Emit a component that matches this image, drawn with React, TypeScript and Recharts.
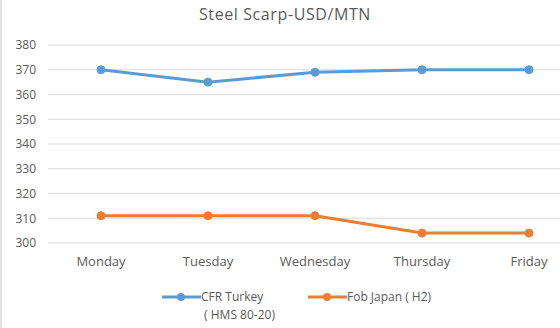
import React from "react";
import { LineChart, Line, XAxis, YAxis, CartesianGrid, Legend } from "recharts";

const days = ["Monday", "Tuesday", "Wednesday", "Thursday", "Friday"];
const cfrTurkey = [370, 365, 369, 370, 370];
const fobJapan = [311, 311, 311, 304, 304];
const yTicks = [300, 310, 320, 330, 340, 350, 360, 370, 380];
const seriesNames = ["CFR Turkey\n ( HMS 80-20)", "Fob Japan ( H2)"];

const data = days.map((d, i) => ({ day: d, cfr: cfrTurkey[i], fob: fobJapan[i] }));

const font = "'Open Sans', sans-serif";
const textColor = "#595959";

// legend drawn by hand so the first label can wrap like the original
const renderLegend = (props: any) => {
  const items = props.payload || [];
  return (
    <div style={{ display: "flex", paddingTop: 10, paddingLeft: 160, fontFamily: font, fontSize: 12, color: textColor }}>
      {items.map((it: any, i: number) => (
        <div key={i} style={{ display: "flex", alignItems: "flex-start", marginRight: 33 }}>
          <svg width={39} height={18} style={{ flexShrink: 0 }}>
            <line x1={0} y1={9} x2={39} y2={9} stroke={it.color} strokeWidth={3} />
            <circle cx={19} cy={9} r={4} fill={it.color} />
          </svg>
          <div style={{ whiteSpace: "pre", lineHeight: "18px", textAlign: "left" }}>{it.value}</div>
        </div>
      ))}
    </div>
  );
};

export default function App() {
  return (
    <div style={{ position: "absolute", left: 0, top: 0, width: 560, height: 328, background: "#fff", borderLeft: "2px solid #e4e4e4", boxSizing: "border-box" }}>
      <div style={{ position: "absolute", top: 3, left: 0, width: 566, textAlign: "center", fontFamily: font, fontSize: 16, letterSpacing: 0.6, color: textColor }}>
        Steel Scarp-USD/MTN
      </div>
      <LineChart width={558} height={328} data={data} margin={{ top: 45, right: 0, left: 0, bottom: 0 }}>
        <CartesianGrid vertical={false} stroke="#d9d9d9" />
        <XAxis
          dataKey="day"
          axisLine={false}
          tickLine={false}
          height={35}
          tickMargin={8}
          padding={{ left: 53, right: 31 }}
          tick={{ fill: textColor, fontSize: 13, fontFamily: font }}
        />
        <YAxis
          width={46}
          domain={[300, 380]}
          ticks={yTicks}
          axisLine={false}
          tickLine={false}
          tickMargin={6}
          tick={{ fill: textColor, fontSize: 12, fontFamily: font }}
        />
        <Legend verticalAlign="bottom" height={50} content={renderLegend} wrapperStyle={{ left: 0, width: 558 }} />
        <Line
          name={seriesNames[0]}
          dataKey="cfr"
          stroke="#5B9BD5"
          strokeWidth={3}
          dot={{ r: 4, fill: "#5B9BD5", stroke: "#5B9BD5", strokeWidth: 1 }}
          isAnimationActive={false}
        />
        <Line
          name={seriesNames[1]}
          dataKey="fob"
          stroke="#ED7D31"
          strokeWidth={3}
          dot={{ r: 4, fill: "#ED7D31", stroke: "#ED7D31", strokeWidth: 1 }}
          isAnimationActive={false}
        />
      </LineChart>
    </div>
  );
}
